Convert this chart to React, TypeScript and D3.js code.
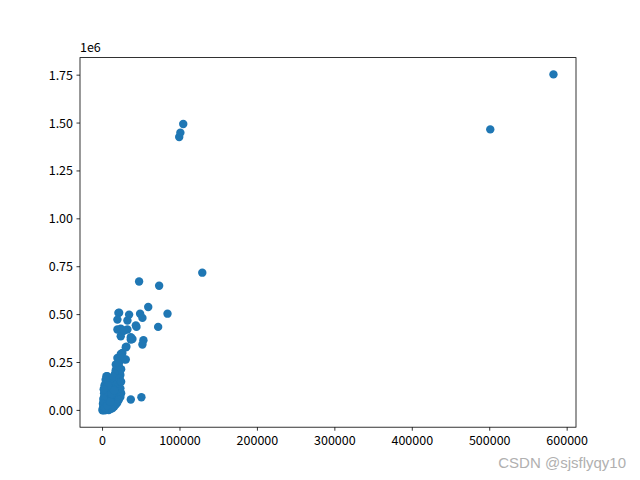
import React from "react";
import * as d3 from "d3";

// scatter data (x, y)
const xValues: number[] = [
  582300, 500700, 99000, 100500, 104200, 128800, 47200, 73100, 59000, 83900,
  20500, 21400, 34300, 48500, 51500, 19200, 32100, 43800, 71800, 19200,
  25600, 32100, 23500, 38600, 52800, 51500, 36500, 30800, 25600, 19200,
  30000, 27800, 17100, 20500, 21400, 6200, 21400, 36500, 50200, 36500,
  43000, 23600, 27800, 23600, 30000,
  0, 500, 1000, 200, 1500, 2500, 3000, 4000, 5000, 6000,
  7000, 8000, 9000, 1000, 2000, 3500, 4500, 6000, 8000, 10000,
  12000, 14000, 16000, 11000, 9000, 7000, 5000, 3000, 1500, 2000,
  4000, 6000, 8000, 10000, 12000, 14000, 16000, 18000, 20000, 22000,
  19000, 17000, 15000, 13000, 11000, 9000, 7000, 5000, 3000, 2500,
  4000, 6000, 8000, 10000, 12000, 14000, 16000, 18000, 20000, 23000,
  21000, 19000, 17000, 15000, 13000, 11000, 9000, 7000, 5000, 4000,
  18000, 20000, 22000, 17000, 19000, 21000, 24000, 23000, 16000, 14000,
  22000, 24000, 24000, 23000, 21000, 19000, 17000, 15000, 13000, 11000,
  2000, 1000, 500, 3000, 6000, 10000, 12000, 15000, 7000, 1500,
];
const yValues: number[] = [
  1754000, 1467000, 1427000, 1450000, 1495000, 719000, 673000, 651000, 540000, 505000,
  509000, 510000, 500000, 505000, 483000, 474000, 469000, 436000, 436000, 422000,
  413000, 422000, 387000, 373000, 366000, 344000, 370000, 332000, 300000, 274000,
  266000, 267000, 240000, 214000, 225000, 179000, 170000, 57000, 69000, 382000,
  444000, 426000, 417000, 295000, 330000,
  0, 2000, 5000, 8000, 3000, 12000, 1000, 6000, 15000, 4000,
  10000, 2000, 18000, 20000, 30000, 25000, 40000, 35000, 28000, 22000,
  30000, 38000, 45000, 50000, 55000, 60000, 65000, 55000, 45000, 70000,
  80000, 90000, 75000, 70000, 65000, 60000, 70000, 80000, 90000, 100000,
  110000, 95000, 85000, 100000, 110000, 120000, 105000, 115000, 100000, 130000,
  140000, 150000, 135000, 125000, 140000, 130000, 120000, 135000, 125000, 115000,
  140000, 150000, 160000, 170000, 155000, 165000, 160000, 170000, 178000, 160000,
  180000, 195000, 205000, 210000, 230000, 245000, 215000, 185000, 190000, 175000,
  165000, 150000, 90000, 70000, 55000, 40000, 30000, 20000, 12000, 8000,
  90000, 60000, 35000, 15000, 25000, 45000, 85000, 105000, 130000, 110000,
];
const xTicks: number[] = [0, 100000, 200000, 300000, 400000, 500000, 600000];
const yTicks: number[] = [0, 250000, 500000, 750000, 1000000, 1250000, 1500000, 1750000];

const W = 640, H = 480;
const L = 80, R = 576, T = 57.6, B = 427.2;
const FONT = "'Noto Sans CJK SC', 'Liberation Sans', sans-serif";

function padDomain(vals: number[]): [number, number] {
  const [a, b] = d3.extent(vals) as [number, number];
  const p = (b - a) * 0.05;
  return [a - p, b + p];
}

export default function App() {
  const x = d3.scaleLinear().domain(padDomain(xValues)).range([L, R]);
  const y = d3.scaleLinear().domain(padDomain(yValues)).range([B, T]);
  const pts = xValues.map((v, i) => [v, yValues[i]]);
  return (
    <svg width={W} height={H} style={{ position: "absolute", left: 0, top: 0, background: "#fff" }}>
      <rect x={0} y={0} width={W} height={H} fill="#fff" />
      <g clipPath="url(#clip)">
        {pts.map((p, i) => (
          <circle key={i} cx={x(p[0])} cy={y(p[1])} r={4.2} fill="#1f77b4" />
        ))}
      </g>
      <defs>
        <clipPath id="clip">
          <rect x={L} y={T} width={R - L} height={B - T} />
        </clipPath>
      </defs>
      <rect x={L} y={T} width={R - L} height={B - T} fill="none" stroke="#000" strokeWidth={0.8} />
      {xTicks.map((t) => (
        <g key={t}>
          <line x1={x(t)} x2={x(t)} y1={B} y2={B + 3.5} stroke="#000" strokeWidth={0.8} />
          <text x={x(t)} y={B + 18} textAnchor="middle" fontFamily={FONT} fontSize={12.5} fill="#000">
            {t}
          </text>
        </g>
      ))}
      {yTicks.map((t) => (
        <g key={t}>
          <line x1={L - 3.5} x2={L} y1={y(t)} y2={y(t)} stroke="#000" strokeWidth={0.8} />
          <text x={L - 7} y={y(t) + 4.5} textAnchor="end" fontFamily={FONT} fontSize={12.5} fill="#000">
            {(t / 1e6).toFixed(2)}
          </text>
        </g>
      ))}
      <text x={L} y={T - 6} fontFamily={FONT} fontSize={12.5} fill="#000">1e6</text>
      <text x={626} y={468} textAnchor="end" fontFamily="'Liberation Sans', Arial, sans-serif" fontSize={15} fill="#b0b0b0">
        CSDN @sjsflyqy10
      </text>
    </svg>
  );
}
